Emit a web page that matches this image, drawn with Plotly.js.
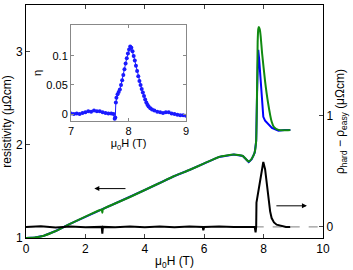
<!DOCTYPE html>
<html>
<head>
<meta charset="utf-8">
<script src="https://cdn.plot.ly/plotly-3.0.1.min.js"></script>
<style>html,body{margin:0;padding:0;background:#fff;}#plot{width:353px;height:270px;}</style>
</head>
<body>
<div id="plot"></div>
<script>
// Main curves (left axis, resistivity in µΩcm)
const xGreen = [0,0.3,0.6,1.0,1.5,2.0,2.5,2.55,2.57,2.59,3.0,3.5,4.0,4.5,5.0,5.5,6.0,6.5,7.0,7.3,7.5,7.6,7.7,7.75,7.78,7.8,7.82,7.84,7.87,7.9,7.95,8.05,8.15,8.27,8.35,8.5,8.7,8.9];
const green  = [1.0,1.005,1.025,1.075,1.155,1.23,1.30,1.305,1.27,1.31,1.37,1.44,1.515,1.59,1.665,1.73,1.80,1.87,1.895,1.88,1.82,1.85,1.92,2.05,2.6,3.1,3.24,3.265,3.24,3.17,2.98,2.68,2.45,2.25,2.19,2.16,2.155,2.16];
const xBlue  = [0,0.3,0.6,1.0,1.5,2.0,2.5,3.0,3.5,4.0,4.5,5.0,5.5,6.0,6.5,7.0,7.3,7.5,7.6,7.7,7.75,7.78,7.8,7.82,7.85,7.9,7.95,7.99,8.05,8.15,8.28,8.5,8.7,8.9];
const blue   = [1.0,1.005,1.025,1.075,1.155,1.23,1.30,1.37,1.44,1.515,1.59,1.665,1.73,1.80,1.87,1.895,1.88,1.815,1.845,1.915,2.04,2.55,2.95,3.02,2.92,2.70,2.48,2.30,2.26,2.22,2.18,2.15,2.16,2.16];
// Difference curve (right axis)
const xDiff = [0,0.5,1.0,1.5,2.0,2.5,2.55,2.57,2.59,3.0,3.5,4.0,4.5,5.0,5.5,5.95,5.97,6.0,6.5,7.0,7.5,7.7,7.73,7.75,7.76,7.85,7.93,7.99,8.05,8.1,8.16,8.22,8.27,8.35,8.44,8.6,8.75,8.9];
const diff  = [0.0,0.005,-0.005,0.003,-0.004,0.004,0.0,-0.06,0.0,-0.003,0.004,-0.004,0.003,-0.003,0.004,0.0,-0.03,0.0,0.004,0.0,0.004,0.0,-0.05,0.0,0.22,0.35,0.5,0.585,0.52,0.40,0.27,0.14,0.08,0.04,0.02,0.008,0.0,0.0];
// Inset: eta
const xEta = [7.0,7.05,7.1,7.15,7.2,7.25,7.3,7.35,7.4,7.45,7.5,7.55,7.6,7.65,7.7,7.74,7.76,7.77,7.78,7.79,7.81,7.83,7.85,7.87,7.89,7.91,7.93,7.95,7.97,7.99,8.01,8.03,8.05,8.07,8.09,8.11,8.13,8.15,8.17,8.19,8.21,8.23,8.25,8.27,8.29,8.31,8.33,8.35,8.38,8.41,8.45,8.5,8.55,8.6,8.65,8.7,8.75,8.8,8.85,8.9,8.95,9.0];
const eta  = [0.001,0.0,0.001,0.0,0.002,0.003,0.005,0.004,0.006,0.005,0.005,0.003,0.002,0.001,0.001,0.0,-0.008,-0.006,0.02,0.028,0.034,0.038,0.042,0.05,0.058,0.067,0.077,0.087,0.096,0.104,0.111,0.116,0.114,0.108,0.1,0.092,0.083,0.074,0.065,0.057,0.05,0.043,0.037,0.031,0.025,0.02,0.016,0.013,0.01,0.008,0.006,0.004,0.003,0.002,0.003,0.003,0.001,0.0,-0.001,-0.002,-0.002,-0.003];

const xTicks = [0,2,4,6,8,10];
const yLeftTicks = [1,2,3];
const yRightTicks = [0,1,2];
const insetXTicks = [7,8,9];
const insetYTicks = [0,0.05,0.1];
const insetYTickText = ['0','0.05','0.1'];

const font = {family:'Liberation Sans, Arial, sans-serif', size:12, color:'#000'};

const traces = [
  {x:xBlue, y:blue, type:'scatter', mode:'lines', line:{color:'#0000ff', width:2}, xaxis:'x', yaxis:'y', hoverinfo:'skip'},
  {x:xGreen, y:green, type:'scatter', mode:'lines', line:{color:'#108a10', width:2, shape:'spline', smoothing:0.4}, xaxis:'x', yaxis:'y', hoverinfo:'skip'},
  {x:xDiff, y:diff, type:'scatter', mode:'lines', line:{color:'#000', width:2}, xaxis:'x', yaxis:'y2', hoverinfo:'skip'},
  {x:xEta, y:eta, type:'scatter', mode:'lines+markers', line:{color:'#1a1aff', width:1}, marker:{color:'#1a1aff', size:4}, xaxis:'x2', yaxis:'y3', hoverinfo:'skip'}
];

const layout = {
  width:353, height:270,
  margin:{l:26, r:30, t:5, b:32},
  paper_bgcolor:'#fff', plot_bgcolor:'#fff',
  showlegend:false,
  font:font,
  xaxis:{domain:[0,1], range:[0,10], tickvals:xTicks, ticks:'inside', ticklen:4, showline:true, linecolor:'#000', linewidth:1, mirror:'ticks', showgrid:false, zeroline:false, anchor:'y',
    title:{text:'μ<sub>0</sub>H (T)', font:font, standoff:2}, automargin:false},
  yaxis:{domain:[0,1], range:[1,3.5], tickvals:yLeftTicks, ticks:'inside', ticklen:4, showline:true, linecolor:'#000', linewidth:1, showgrid:false, zeroline:false, anchor:'x',
    title:{text:'resistivity (μΩcm)', font:font, standoff:2}, automargin:false},
  yaxis2:{range:[-0.1,2], tickvals:yRightTicks, ticks:'inside', ticklen:4, showline:true, linecolor:'#000', linewidth:1, showgrid:false, zeroline:false, overlaying:'y', side:'right', anchor:'x',
    title:{text:'ρ<sub>hard</sub> − ρ<sub>easy</sub> (μΩcm)', font:font, standoff:2}, automargin:false},
  xaxis2:{domain:[0.1515,0.5387], range:[7,9], tickvals:insetXTicks, ticks:'inside', ticklen:3, showline:true, linecolor:'#888', linewidth:1, mirror:'ticks', tickcolor:'#888', showgrid:false, zeroline:false, anchor:'y3',
    tickfont:{family:font.family, size:11, color:'#000'}, title:{text:'μ<sub>0</sub>H (T)', font:{family:font.family, size:11, color:'#000'}, standoff:0}, automargin:false},
  yaxis3:{domain:[0.502,0.914], range:[-0.012,0.153], tickvals:insetYTicks, ticktext:insetYTickText, ticks:'inside', ticklen:3, showline:true, linecolor:'#888', linewidth:1, mirror:'ticks', tickcolor:'#888', showgrid:false, zeroline:false, anchor:'x2',
    tickfont:{family:font.family, size:11, color:'#000'}, title:{text:'η', font:{family:font.family, size:11, color:'#000'}, standoff:2}, automargin:false},
  shapes:[
    {type:'line', xref:'x', yref:'y2', x0:7.7, x1:10, y0:0, y1:0, line:{color:'#999', width:1.2, dash:'dash'}, layer:'below'}
  ],
  annotations:[
    {xref:'x', yref:'y', axref:'x', ayref:'y', x:2.3, y:1.53, ax:3.4, ay:1.53, showarrow:true, arrowhead:2, arrowsize:1, arrowwidth:1, arrowcolor:'#000', text:''},
    {xref:'x', yref:'y2', axref:'x', ayref:'y2', x:9.46, y:0.19, ax:8.38, ay:0.19, showarrow:true, arrowhead:2, arrowsize:1, arrowwidth:1, arrowcolor:'#000', text:''}
  ]
};

Plotly.newPlot('plot', traces, layout, {staticPlot:true, displayModeBar:false});
</script>
</body>
</html>
